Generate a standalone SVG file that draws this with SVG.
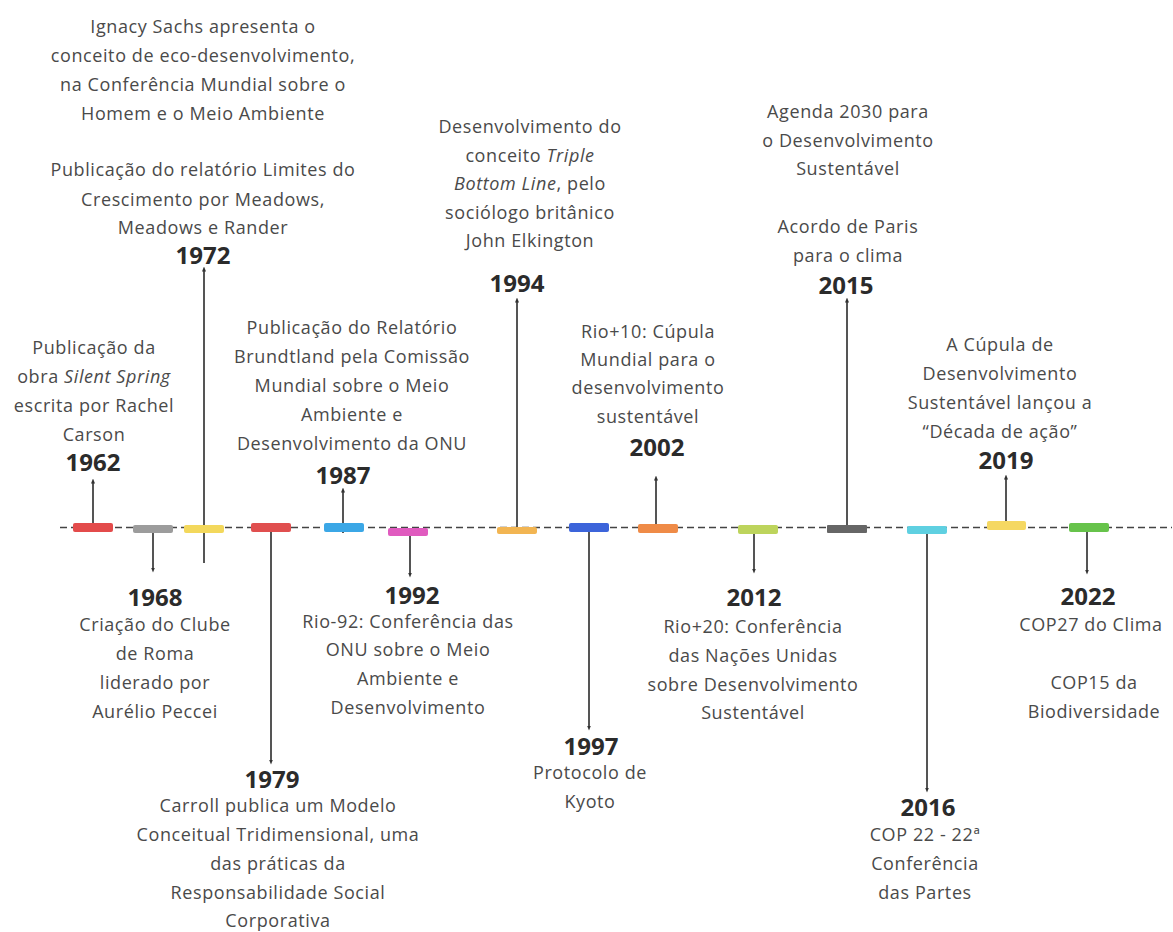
<svg xmlns="http://www.w3.org/2000/svg" width="1173" height="932" viewBox="0 0 1173 932">
<defs>
<style>
.t{font-family:"Open Sans","Noto Sans","Liberation Sans",sans-serif;font-size:18px;letter-spacing:0.6px;fill:#4a4a4a;text-anchor:middle}
.y{font-family:"Open Sans","Noto Sans","Liberation Sans",sans-serif;font-size:24px;font-weight:bold;fill:#2b2b2b;text-anchor:middle}
.i{font-style:italic}
.c{stroke:#555;stroke-width:2;fill:none;marker-end:url(#tip)}
.bar{stroke:none}
</style>
<marker id="tip" markerUnits="userSpaceOnUse" markerWidth="5" markerHeight="5" refX="2.5" refY="2.5" orient="auto">
<path d="M0,0.5 L5,2.5 L0,4.5 Z" fill="#333"/>
</marker>
</defs>
<rect width="1173" height="932" fill="#fff"/>
<line id="axis" x1="60" y1="527.5" x2="1172" y2="527.5" stroke="#444" stroke-width="1.6" stroke-dasharray="7 4"/>
<g id="connectors">
<line class="c" x1="93" y1="523" x2="93" y2="481"/>
<line class="c" x1="153" y1="533" x2="153" y2="570"/>
<line class="c" x1="204" y1="563" x2="204" y2="269"/>
<line class="c" x1="271" y1="532" x2="271" y2="762"/>
<line class="c" x1="343" y1="533" x2="343" y2="490"/>
<line class="c" x1="410" y1="536" x2="410" y2="575"/>
<line class="c" x1="517" y1="527" x2="517" y2="300"/>
<line class="c" x1="589" y1="532" x2="589" y2="728"/>
<line class="c" x1="656" y1="524" x2="656" y2="478"/>
<line class="c" x1="754" y1="534" x2="754" y2="571"/>
<line class="c" x1="847" y1="525" x2="847" y2="300"/>
<line class="c" x1="927" y1="534" x2="927" y2="790"/>
<line class="c" x1="1006" y1="521" x2="1006" y2="477"/>
<line class="c" x1="1087" y1="532" x2="1087" y2="572"/>
</g>
<g id="e1962">
<rect class="bar" x="73" y="523" width="40" height="9" rx="2" fill="#e34b4b"/>
<text class="t" x="94" y="354">Publicação da</text>
<text class="t" x="94" y="383">obra <tspan class="i">Silent Spring</tspan></text>
<text class="t" x="94" y="412">escrita por Rachel</text>
<text class="t" x="94" y="441">Carson</text>
<text class="y" x="93" y="471">1962</text>
</g>
<g id="e1968">
<rect class="bar" x="133" y="525" width="40" height="8" rx="2" fill="#9c9c9c"/>
<text class="y" x="155" y="606">1968</text>
<text class="t" x="155" y="631">Criação do Clube</text>
<text class="t" x="155" y="660">de Roma</text>
<text class="t" x="155" y="689">liderado por</text>
<text class="t" x="155" y="718">Aurélio Peccei</text>
</g>
<g id="e1972">
<rect class="bar" x="184" y="525" width="40" height="8" rx="2" fill="#f3d85c"/>
<text class="t" x="203" y="33">Ignacy Sachs apresenta o</text>
<text class="t" x="203" y="62">conceito de eco-desenvolvimento,</text>
<text class="t" x="203" y="91">na Conferência Mundial sobre o</text>
<text class="t" x="203" y="120">Homem e o Meio Ambiente</text>
<text class="t" x="203" y="176">Publicação do relatório Limites do</text>
<text class="t" x="203" y="206">Crescimento por Meadows,</text>
<text class="t" x="203" y="234">Meadows e Rander</text>
<text class="y" x="203" y="264">1972</text>
</g>
<g id="e1979">
<rect class="bar" x="251" y="523" width="40" height="9" rx="2" fill="#e04f4f"/>
<text class="y" x="272" y="788">1979</text>
<text class="t" x="278" y="812">Carroll publica um Modelo</text>
<text class="t" x="278" y="841">Conceitual Tridimensional, uma</text>
<text class="t" x="278" y="870">das práticas da</text>
<text class="t" x="278" y="899">Responsabilidade Social</text>
<text class="t" x="278" y="927">Corporativa</text>
</g>
<g id="e1987">
<rect class="bar" x="324" y="523" width="40" height="9" rx="2" fill="#3ba7e6"/>
<text class="t" x="352" y="334">Publicação do Relatório</text>
<text class="t" x="352" y="363">Brundtland pela Comissão</text>
<text class="t" x="352" y="392">Mundial sobre o Meio</text>
<text class="t" x="352" y="421">Ambiente e</text>
<text class="t" x="352" y="450">Desenvolvimento da ONU</text>
<text class="y" x="343" y="484">1987</text>
</g>
<g id="e1992">
<rect class="bar" x="388" y="528" width="40" height="8" rx="2" fill="#e05bbf"/>
<text class="y" x="412" y="604">1992</text>
<text class="t" x="408" y="628">Rio-92: Conferência das</text>
<text class="t" x="408" y="656">ONU sobre o Meio</text>
<text class="t" x="408" y="685">Ambiente e</text>
<text class="t" x="408" y="714">Desenvolvimento</text>
</g>
<g id="e1994">
<rect class="bar" x="497" y="527" width="40" height="7" rx="2" fill="#f2b552"/>
<text class="t" x="530" y="133">Desenvolvimento do</text>
<text class="t" x="530" y="162">conceito <tspan class="i">Triple</tspan></text>
<text class="t" x="530" y="190"><tspan class="i">Bottom Line</tspan>, pelo</text>
<text class="t" x="530" y="219">sociólogo britânico</text>
<text class="t" x="530" y="247">John Elkington</text>
<text class="y" x="517" y="292">1994</text>
</g>
<g id="e1997">
<rect class="bar" x="569" y="523" width="40" height="9" rx="2" fill="#3c64da"/>
<text class="y" x="591" y="755">1997</text>
<text class="t" x="590" y="779">Protocolo de</text>
<text class="t" x="590" y="808">Kyoto</text>
</g>
<g id="e2002">
<rect class="bar" x="638" y="524" width="40" height="9" rx="2" fill="#ef8b47"/>
<text class="t" x="648" y="338">Rio+10: Cúpula</text>
<text class="t" x="648" y="366">Mundial para o</text>
<text class="t" x="648" y="394">desenvolvimento</text>
<text class="t" x="648" y="423">sustentável</text>
<text class="y" x="657" y="456">2002</text>
</g>
<g id="e2012">
<rect class="bar" x="738" y="525" width="40" height="9" rx="2" fill="#bdd45c"/>
<text class="y" x="754" y="606">2012</text>
<text class="t" x="753" y="633">Rio+20: Conferência</text>
<text class="t" x="753" y="662">das Nações Unidas</text>
<text class="t" x="753" y="691">sobre Desenvolvimento</text>
<text class="t" x="753" y="719">Sustentável</text>
</g>
<g id="e2015">
<rect class="bar" x="827" y="525" width="40" height="8" rx="1" fill="#666"/>
<text class="t" x="848" y="118">Agenda 2030 para</text>
<text class="t" x="848" y="147">o Desenvolvimento</text>
<text class="t" x="848" y="175">Sustentável</text>
<text class="t" x="848" y="233">Acordo de Paris</text>
<text class="t" x="848" y="262">para o clima</text>
<text class="y" x="846" y="294">2015</text>
</g>
<g id="e2016">
<rect class="bar" x="907" y="526" width="40" height="8" rx="2" fill="#5fd0e1"/>
<text class="y" x="928" y="816">2016</text>
<text class="t" x="925" y="841">COP 22 - 22ª</text>
<text class="t" x="925" y="870">Conferência</text>
<text class="t" x="925" y="899">das Partes</text>
</g>
<g id="e2019">
<rect class="bar" x="987" y="521" width="39" height="9" rx="2" fill="#f5d862"/>
<text class="t" x="1000" y="351">A Cúpula de</text>
<text class="t" x="1000" y="380">Desenvolvimento</text>
<text class="t" x="1000" y="409">Sustentável lançou a</text>
<text class="t" x="1000" y="438">“Década de ação”</text>
<text class="y" x="1006" y="469">2019</text>
</g>
<g id="e2022">
<rect class="bar" x="1069" y="523" width="40" height="9" rx="2" fill="#67c34b"/>
<text class="y" x="1088" y="605">2022</text>
<text class="t" x="1091" y="631">COP27 do Clima</text>
<text class="t" x="1094" y="689">COP15 da</text>
<text class="t" x="1094" y="718">Biodiversidade</text>
</g>
</svg>
